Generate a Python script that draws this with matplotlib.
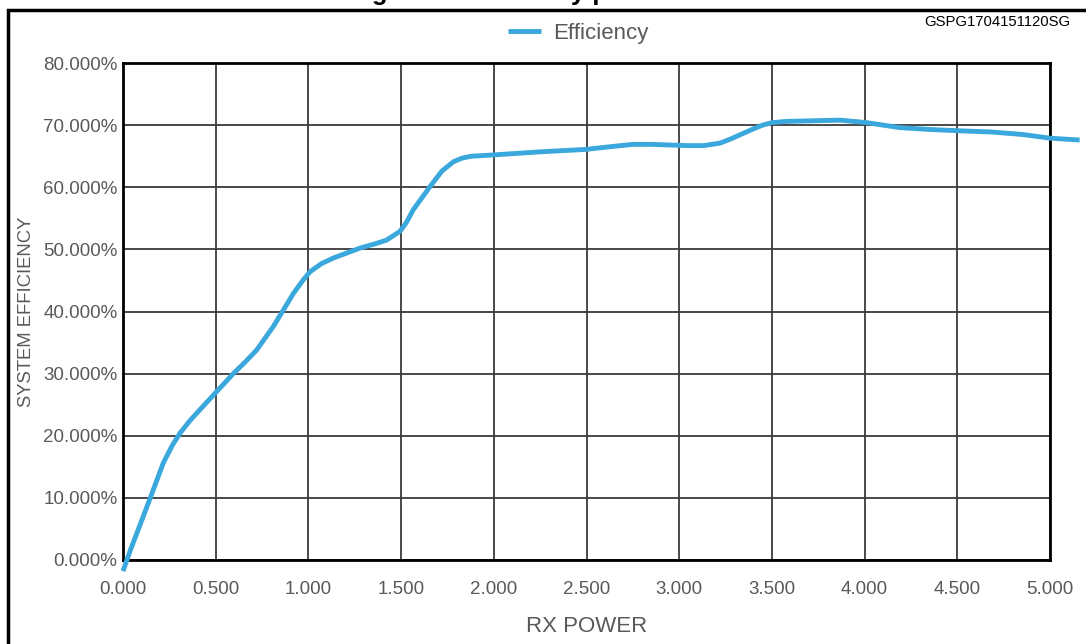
import matplotlib
matplotlib.use("Agg")
import matplotlib.pyplot as plt
from matplotlib.patches import Rectangle
from matplotlib.ticker import FuncFormatter, MultipleLocator

plt.rcParams['font.family'] = ['Liberation Sans', 'DejaVu Sans']

# RX power vs system efficiency (%)
rx_power = [0.0, 0.04, 0.146, 0.217, 0.265, 0.307, 0.36, 0.415, 0.505, 0.595,
            0.66, 0.721, 0.811, 0.919, 0.97, 1.009, 1.07, 1.134, 1.278, 1.36,
            1.422, 1.494, 1.53, 1.566, 1.656, 1.72, 1.782, 1.83, 1.88, 1.94,
            1.997, 2.25, 2.50, 2.62, 2.75, 2.85, 2.95, 3.05, 3.13, 3.22,
            3.28, 3.34, 3.40, 3.45, 3.50, 3.58, 3.72, 3.87, 4.01, 4.10,
            4.19, 4.35, 4.50, 4.68, 4.85, 5.00, 5.16]
efficiency = [-1.8, 1.6, 9.9, 15.6, 18.4, 20.4, 22.4, 24.2, 27.1, 30.0,
              31.9, 33.8, 37.6, 42.9, 45.0, 46.4, 47.7, 48.6, 50.2, 50.9,
              51.5, 52.9, 54.4, 56.4, 60.1, 62.6, 64.1, 64.7, 65.0, 65.1,
              65.2, 65.7, 66.1, 66.5, 66.9, 66.9, 66.8, 66.7, 66.7, 67.1,
              67.8, 68.6, 69.4, 70.0, 70.4, 70.6, 70.7, 70.8, 70.4, 70.0,
              69.6, 69.3, 69.1, 68.9, 68.5, 67.9, 67.6]

x_ticks = [0.0, 0.5, 1.0, 1.5, 2.0, 2.5, 3.0, 3.5, 4.0, 4.5, 5.0]

W, H = 1086, 644
fig = plt.figure(figsize=(W / 100, H / 100), dpi=100)
ax = fig.add_axes([123 / W, (H - 560) / H, (1050 - 123) / W, (560 - 63) / H])

# outer frame, cut off at right and bottom
fig.patches.append(Rectangle((8 / W, -0.2), 1.5, (H - 10) / H + 0.2,
                             transform=fig.transFigure, fill=False,
                             edgecolor='black', linewidth=2.5))

# title mostly cut off above the image, like in the original
fig.text(349 / W, 1.0, "Figure 8. Efficiency plot", fontsize=18.5,
         fontweight='bold', ha='left', va='baseline')

ax.plot(rx_power, efficiency, color='#3aa8dc', linewidth=3.5,
        label='Efficiency', clip_on=False, solid_capstyle='butt',
        solid_joinstyle='round', zorder=5)

ax.set_xlim(0, 5)
ax.set_ylim(0, 80)
ax.set_xticks(x_ticks)
ax.yaxis.set_major_locator(MultipleLocator(10))
ax.xaxis.set_major_formatter(FuncFormatter(lambda v, p: f"{v:.3f}"))
ax.yaxis.set_major_formatter(FuncFormatter(lambda v, p: f"{v:.3f}%"))
ax.tick_params(length=0, labelsize=13.5, colors='#595959')
ax.tick_params(axis='x', pad=15)
ax.tick_params(axis='y', pad=4)
ax.grid(True, color='#3a3a3a', linewidth=1.3)
for s in ax.spines.values():
    s.set_linewidth(2)
    s.set_color('black')

ax.set_xlabel("RX POWER", fontsize=16, color='#595959')
ax.xaxis.set_label_coords(0.5, -(627 - 560) / (560 - 63), transform=ax.transAxes)
ax.xaxis.label.set_va('center')
ax.set_ylabel("SYSTEM EFFICIENCY", fontsize=13.3, color='#595959')
ax.yaxis.set_label_coords(-96 / (1050 - 123), 0.5)
ax.yaxis.label.set_va('center')

ax.legend(loc='center', bbox_to_anchor=(578 / W, (H - 33) / H),
          bbox_transform=fig.transFigure, frameon=False, fontsize=16,
          handlelength=1.5, handletextpad=0.55, labelcolor='#595959')

fig.text(1070 / W, (H - 22) / H, "GSPG1704151120SG", fontsize=10.7,
         ha='right', va='center', color='black')

fig.savefig("out.png", dpi=100)
